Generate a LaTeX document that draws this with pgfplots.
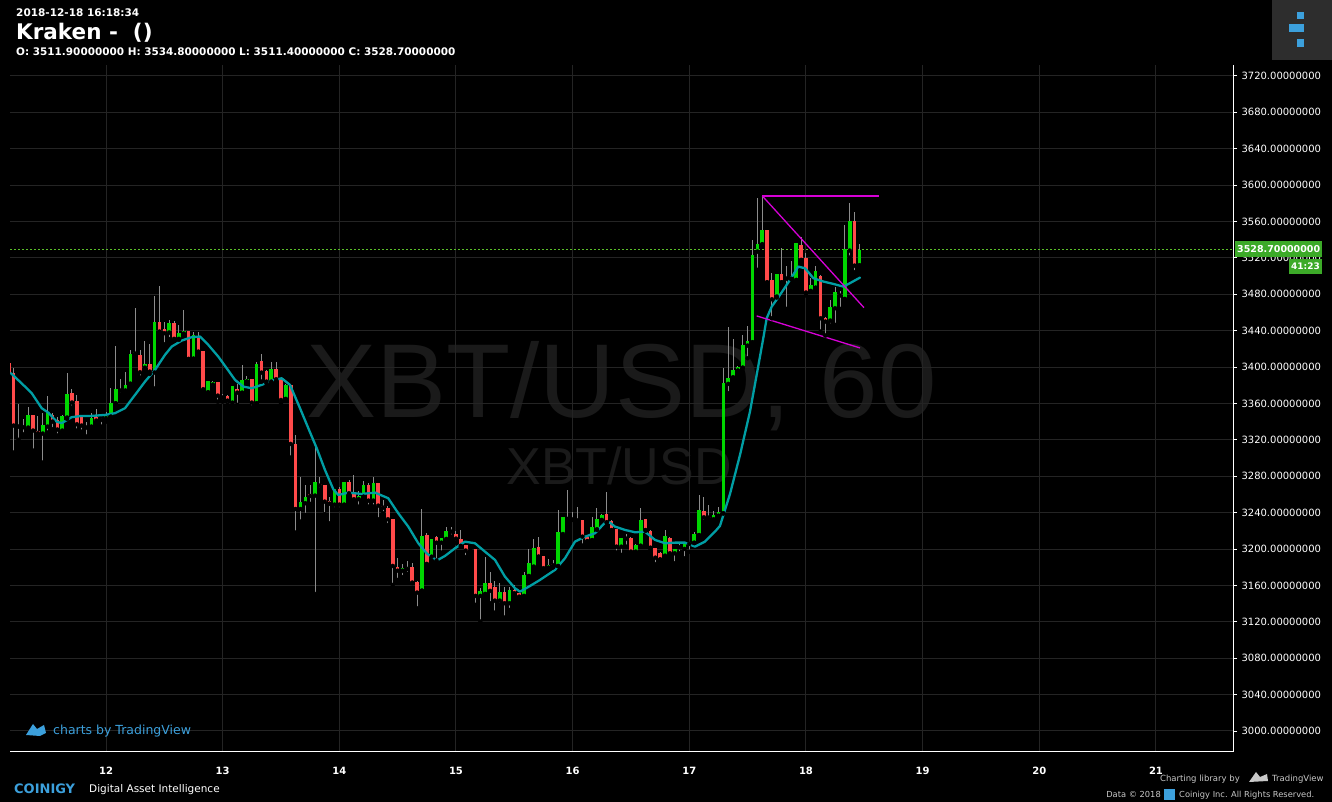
\documentclass[border=0pt]{standalone}
\usepackage{fontspec}
\setmainfont{DejaVu Sans}
\newfontfamily\lib{Liberation Sans}
\usepackage{pgfplots}
\pgfplotsset{compat=1.18}
\usepackage{pgfplotstable}

\definecolor{upg}{RGB}{0,214,0}
\definecolor{dnr}{RGB}{255,74,74}
\definecolor{wick}{RGB}{140,140,140}
\definecolor{gridc}{RGB}{36,36,36}
\definecolor{tealc}{RGB}{0,158,164}
\definecolor{magc}{RGB}{214,0,214}
\definecolor{pricec}{RGB}{90,190,40}
\definecolor{pricebox}{RGB}{60,170,40}
\definecolor{tvblue}{RGB}{60,160,220}
\definecolor{wm}{RGB}{26,26,26}
\definecolor{logobg}{RGB}{45,45,45}
\definecolor{foot}{RGB}{200,200,200}

\pgfplotstableread{
h o hi lo c
-16 3333.5 3356.6 3330.2 3347.4
-13 3326.9 3349.2 3295 3336.4
-12 3334.6 3368.3 3328 3349.6
-9 3330.2 3347.4 3329.1 3346.3
-8 3344.5 3393.6 3343 3370.5
-4 3333.5 3339.4 3323.6 3335.7
-3 3334.6 3350 3334 3344.5
-1 3341.8 3344.5 3334.6 3342.4
0 3343.8 3351 3340 3346.7
1 3345.6 3377.5 3345 3361
2 3360.2 3423.3 3360 3376
4 3374.1 3394.3 3374 3380
5 3381.8 3418.9 3381 3414.5
6 3414.8 3465 3414 3416.7
8 3399.4 3428.7 3398 3403.1
10 3394 3478.2 3376.4 3449.6
13 3437.9 3451.8 3430.6 3448.2
15 3431 3446.3 3430 3437.2
16 3436.8 3462.8 3436 3439.7
18 3409.3 3438.6 3409 3435.3
21 3372.3 3385 3372 3384.7
22 3380.7 3384.7 3376.7 3383.6
24 3366.5 3370 3362 3367.5
26 3360.9 3379.5 3357.3 3379.2
28 3371.9 3402.3 3371.5 3385.8
29 3384 3390.3 3384 3387
31 3360.2 3406 3360 3403.4
34 3384 3406 3383 3398
37 3365 3381 3364 3380
40 3244 3279.6 3230.1 3251.7
41 3250.3 3270.4 3237.4 3257.2
43 3258.7 3311.8 3150.6 3273.7
47 3248.8 3266 3243.7 3265.7
49 3248.8 3274 3248.5 3273.7
52 3254.7 3264.2 3246.6 3258.3
53 3257.6 3275.2 3257 3270.4
55 3253.2 3278.8 3246.6 3272.2
61 3176.2 3183.6 3169 3179.5
62 3178.1 3187.3 3172.6 3179.9
65 3154.3 3243.7 3154 3214.4
67 3191.6 3211.4 3187.3 3211.1
69 3207 3212.5 3196 3212.2
70 3211.1 3224.6 3207 3219.8
71 3219.1 3224.6 3213.6 3219.8
75 3198.3 3200 3197 3199.8
77 3148.5 3156.9 3120.2 3154.3
78 3150.7 3191.7 3149.6 3163.1
81 3143.3 3162.4 3138.6 3153.2
83 3140.4 3158.7 3133 3155
86 3148.5 3175.2 3148 3171.5
87 3170.4 3199.8 3170 3185.1
88 3180.7 3210.7 3180 3200.9
91 3179.6 3189.5 3179 3182.5
93 3181.4 3242.9 3181 3219.1
94 3216.5 3235.5 3213.6 3234.9
95 3233 3264.9 3233 3234.5
100 3209.9 3235.6 3209.5 3224.6
101 3221.7 3244.8 3221 3233
102 3232 3238 3231.2 3237.8
106 3202.6 3212 3193.5 3211.8
107 3211.4 3216.5 3202.6 3211.8
109 3197.1 3205 3196 3204.5
110 3203.7 3244.8 3203 3231.9
115 3192.7 3220.9 3189.8 3214.3
117 3195.3 3200.5 3184.3 3200.1
119 3200.1 3206.5 3189.8 3206.3
120 3205.6 3208 3197 3207.8
121 3207 3219.1 3206.5 3216.5
122 3215.4 3259.4 3215 3242.9
125 3232.7 3242.2 3230.1 3237.4
126 3236.7 3246.6 3236 3240.4
127 3239.3 3399.4 3239 3382.2
128 3381.5 3444.5 3371.2 3387.7
129 3388.8 3430.9 3388 3396.8
130 3396.1 3400.7 3396 3400.5
131 3399.4 3435.3 3399 3424.3
132 3423.6 3445.6 3409.7 3428.7
133 3427.3 3539.7 3427 3523.3
134 3526.9 3585.5 3506.8 3535
135 3535 3589.2 3534.6 3550.7
138 3477.5 3502.3 3476.4 3502
140 3497.2 3511.5 3463.9 3497.9
141 3496.9 3516.7 3496.5 3497.6
142 3495.8 3536.5 3495.5 3536.1
145 3483.7 3498.3 3483 3490.3
146 3487.3 3511.5 3487 3505.7
149 3451.1 3473.8 3445.6 3465.7
150 3464.6 3488.4 3446.3 3482.2
152 3474.9 3556.2 3474.5 3529.9
153 3528 3580.1 3520.3 3560.6
155 3511.9 3534.8 3511.4 3528.7
}\upc

\pgfplotstableread{
h o hi lo c
-20 3404.2 3406.8 3390 3393.2
-19 3393.2 3398.7 3306 3335.7
-18 3336.4 3359.5 3320 3334.6
-17 3335.7 3342.6 3326 3333.8
-15 3347.0 3347.5 3308.2 3330.2
-14 3329.8 3346.3 3323.6 3327.3
-11 3347.4 3350 3331.7 3340.1
-10 3341.9 3345.6 3324.7 3331.3
-7 3371.2 3376 3355.5 3361.0
-6 3362.8 3369.4 3330.2 3337.1
-5 3347.0 3347.5 3329 3335.7
-2 3345.2 3353.6 3338 3341.2
3 3376 3387 3369.4 3374.1
7 3413 3418.9 3388.5 3394.3
9 3403.1 3425.4 3392.5 3395.0
11 3449.6 3489.2 3435.3 3439
12 3442 3449.6 3425 3437.2
14 3448.2 3450.7 3428.7 3431
17 3439.7 3440 3406.8 3409
19 3432.7 3438.6 3415.2 3417
20 3417.7 3418 3373.8 3375.6
23 3383.3 3384 3362 3368.6
25 3368.3 3369 3358.4 3363.1
27 3376 3381 3358.4 3371.9
30 3386.6 3387 3355.8 3360.9
32 3406.4 3414 3384 3393.9
33 3395.7 3396.8 3382.2 3384
35 3397.6 3406 3384 3386.6
36 3387.7 3388 3360 3363.8
38 3380.3 3381 3300.5 3315.5
39 3315.5 3325.4 3218 3244
42 3260.9 3270.4 3249.6 3258.3
44 3271.9 3279.6 3264.9 3269.7
45 3270.4 3270.5 3238.2 3252.1
46 3252.5 3256.9 3228.3 3249.9
48 3265.7 3268.6 3243.7 3248.8
50 3273.7 3275.9 3257.6 3261.2
51 3260.5 3281.4 3252.1 3254.7
54 3270.4 3272.3 3246.6 3253.2
56 3272.2 3272.5 3232.7 3247.7
57 3247.7 3253.9 3239.3 3245.5
58 3244.8 3247.3 3226.4 3232.7
59 3232.7 3233 3160.5 3181.4
60 3179.9 3189.8 3166 3176.2
63 3179.9 3184.3 3162.5 3163.1
64 3164.2 3164.5 3134.8 3152.1
66 3215.5 3218 3183 3183.6
68 3212.9 3214.4 3187.3 3207
72 3216.2 3220.2 3207 3211.4
73 3211.1 3221 3203 3203.4
74 3204.5 3204.5 3191 3198.3
76 3199.8 3200 3138.6 3148.5
79 3163.1 3175.2 3140.4 3154
80 3158.7 3165 3130.1 3143.3
82 3153.2 3158.7 3124.6 3140.4
84 3155 3160.6 3150.6 3151.4
85 3151.4 3152 3147 3147.7
89 3202 3213.7 3191.5 3191.7
90 3192.4 3192.7 3177.8 3178.9
92 3183.2 3188 3179.9 3182.1
96 3234.5 3241.1 3232 3232.3
97 3233 3246.6 3231 3231.2
98 3231.9 3232 3203.7 3213.6
99 3213.6 3215.4 3208 3208.8
103 3238.5 3262.3 3229 3229.4
104 3230.5 3232 3217.3 3220.9
105 3221.7 3222 3196 3202.6
108 3211.8 3213.6 3195.3 3197.1
111 3232.7 3233 3220 3220.9
112 3219.8 3221 3200 3201.5
113 3200.8 3201 3183.2 3190.5
114 3195.3 3197 3188 3188.7
116 3212.5 3213 3193.5 3195.3
118 3203.7 3207 3195.3 3201.9
123 3241.8 3257.6 3230.1 3234.9
124 3235.6 3248.4 3232 3234.5
136 3550.7 3551 3493 3493.2
137 3495.8 3503.1 3453.6 3474.5
139 3502 3530.6 3493 3493.2
143 3534.2 3543.4 3517.5 3517.8
144 3519.6 3525.1 3478.6 3481.9
147 3500.5 3501 3439 3453.6
148 3453.6 3455.5 3434.6 3450
151 3480.7 3484 3464 3478.6
154 3560.6 3570.9 3504.2 3511.5
}\dnc

\pgfplotstableread{
h v
-19.54 3393.2
-16.66 3378.5
-15.28 3371.2
-13.23 3354.8
-11.87 3349.9
-10.14 3340.0
-9.11 3338.3
-7.06 3344.9
-5.0 3346.3
-2.94 3346.3
-0.2 3347.4
1.85 3349.3
3.91 3354.8
5.97 3369.4
8.02 3384.0
10.08 3396.8
12.14 3413.4
13.52 3422.5
15.57 3429.1
17.63 3432.8
19.34 3433.5
21.05 3424.3
23.1 3411.5
24.83 3398.7
26.54 3385.9
28.25 3378.5
29.97 3376.7
32.03 3380.4
34.09 3385.1
36.14 3387.7
37.85 3380.4
39.91 3354.8
41.62 3332.8
43.35 3310.8
45.05 3286.9
46.76 3265.7
47.79 3259.4
49.84 3262.0
52.6 3260.5
55.34 3262.0
58.07 3255.8
60.13 3239.3
62.19 3224.6
64.25 3206.3
65.97 3195.3
68.03 3187.2
69.74 3192.4
71.8 3200.8
73.85 3208.1
75.91 3206.3
77.97 3197.1
80.03 3188.0
82.08 3169.6
84.14 3156.9
85.17 3153.1
87.23 3159.4
89.28 3166.0
92.37 3177.0
94.43 3189.9
96.48 3208.1
98.54 3213.6
100.6 3217.3
102.65 3229.0
103.68 3229.0
104.71 3224.6
106.77 3221.0
108.83 3218.4
110.88 3219.1
112.94 3210.0
115.0 3206.3
117.05 3207.0
119.11 3207.0
121.17 3202.6
123.22 3208.1
125.28 3219.1
126.31 3225.4
128.37 3260.5
130.43 3303.4
132.48 3351.0
133.86 3391.4
135.22 3431.7
135.92 3453.7
136.95 3466.4
138.66 3479.3
140.71 3495.8
142.42 3510.4
143.8 3508.6
144.83 3502.1
145.5 3497.7
147.56 3494.0
149.62 3491.4
151.68 3488.4
153.05 3492.2
155.11 3498.3
}\ema

\begin{document}
\begin{tikzpicture}
\fill[black] (0,0) rectangle (1332pt,802pt);
\useasboundingbox (0,0) rectangle (1332pt,802pt);

% watermark
\node[anchor=base, inner sep=0, text=wm, font=\lib\fontsize{105}{110}\selectfont] at (621.5pt,384pt) {XBT/USD, 60};
\node[anchor=base, inner sep=0, text=wm, font=\lib\fontsize{52}{56}\selectfont] at (619pt,317pt) {XBT/USD};

\begin{axis}[
  at={(10pt,50pt)}, anchor=south west,
  scale only axis, width=1223pt, height=687pt,
  xmin=-19.75, xmax=231.85, ymin=2976.9, ymax=3732,
  axis x line*=bottom, axis y line*=right,
  axis line style={white, line width=1pt},
  xtick={0,24,48,72,96,120,144,168,192,216},
  xticklabels={12,13,14,15,16,17,18,19,20,21},
  ytick={3000,3040,...,3720},
  yticklabel={\pgfmathparse{int(round(\tick))}\pgfmathresult.00000000},
  grid=major, grid style={gridc, line width=1pt},
  xtick style={draw=none},
  ytick style={white, line width=0.8pt},
  tick align=outside, major tick length=4pt,
  yticklabel style={font=\fontsize{10}{12}\selectfont, text=white, anchor=west, xshift=1pt},
  xticklabel style={font=\bfseries\fontsize{10}{12}\selectfont, text=white, yshift=-8pt},
  /pgf/number format/assume math mode=true,
  clip=true,
]
% current price line
\addplot[pricec, dash pattern=on 2pt off 2pt, line width=1pt, forget plot] coordinates {(-19.75,3528.7) (231.85,3528.7)};
% wicks
\addplot[only marks, mark=none, forget plot,
  error bars/.cd, y dir=plus, y explicit, error mark=none,
  error bar style={draw=wick, line width=1pt}]
  table[x=h, y=lo, y error expr=\thisrow{hi}-\thisrow{lo}] {\upc};
\addplot[only marks, mark=none, forget plot,
  error bars/.cd, y dir=plus, y explicit, error mark=none,
  error bar style={draw=wick, line width=1pt}]
  table[x=h, y=lo, y error expr=\thisrow{hi}-\thisrow{lo}] {\dnc};
% bodies
\addplot[only marks, mark=none, forget plot,
  error bars/.cd, y dir=plus, y explicit, error mark=none,
  error bar style={draw=upg, line width=3.6pt}]
  table[x=h, y=o, y error expr={max(\thisrow{c}-\thisrow{o},0.9)}] {\upc};
\addplot[only marks, mark=none, forget plot,
  error bars/.cd, y dir=plus, y explicit, error mark=none,
  error bar style={draw=dnr, line width=3.6pt}]
  table[x=h, y=c, y error expr={max(\thisrow{o}-\thisrow{c},0.9)}] {\dnc};
% moving average
\addplot[tealc, line width=2.3pt, line join=round, line cap=round, mark=none, forget plot] table[x=h, y=v] {\ema};
% drawn trend lines
\addplot[magc, line width=1.3pt, forget plot] coordinates {(135.01,3588.1) (159.02,3588.1)};
\addplot[magc, line width=1.3pt, forget plot] coordinates {(135.01,3588.1) (155.93,3465.3)};
\addplot[magc, line width=1.3pt, forget plot] coordinates {(133.86,3456.2) (155.11,3421.0)};
\end{axis}

% header
\node[anchor=base west, inner sep=0, text=white, font=\bfseries\fontsize{10.5}{12}\selectfont] at (16pt,785pt) {2018-12-18 16:18:34};
\node[anchor=base west, inner sep=0, text=white, font=\bfseries\fontsize{21.5}{24}\selectfont] at (16pt,762pt) {Kraken -\ \ ()};
\node[anchor=base west, inner sep=0, text=white, font=\bfseries\fontsize{10.45}{12}\selectfont] at (16pt,746pt) {O: 3511.90000000 H: 3534.80000000 L: 3511.40000000 C: 3528.70000000};

% logo top right
\fill[logobg] (1272pt,742pt) rectangle (1332pt,802pt);
\fill[tvblue] (1297pt,783pt) rectangle (1304pt,790pt);
\fill[tvblue] (1289pt,770pt) rectangle (1304pt,778pt);
\fill[tvblue] (1297pt,755pt) rectangle (1304pt,763pt);

% price labels on right
\node[fill=pricebox, text=white, font=\bfseries\fontsize{9.5}{10}\selectfont, inner sep=2pt, minimum height=16pt, anchor=west] at (1235pt,553pt) {3528.70000000};
\node[fill=pricebox, text=white, font=\bfseries\fontsize{9}{10}\selectfont, inner sep=2pt, minimum height=15pt, anchor=north east] at (1322pt,543pt) {41:23};

% charts by TradingView
\fill[tvblue] (26pt,67pt) -- (33pt,78pt) -- (37pt,73pt) -- (44pt,77pt) -- (46pt,69pt) -- (40pt,66pt) -- cycle;
\node[anchor=base west, inner sep=0, text=tvblue, font=\fontsize{12.5}{14}\selectfont] at (53pt,67pt) {charts by TradingView};

% footer left
\node[anchor=base west, inner sep=0, text=tvblue, font=\bfseries\fontsize{13}{14}\selectfont] at (14pt,8pt) {COINIGY};
\node[anchor=base west, inner sep=0, text=white, font=\fontsize{10.5}{12}\selectfont] at (89pt,9pt) {Digital Asset Intelligence};

% footer right
\node[anchor=base east, inner sep=0, text=foot, font=\fontsize{8.5}{10}\selectfont] at (1240pt,20pt) {Charting library by};
\fill[foot] (1249pt,20pt) -- (1256pt,30pt) -- (1260pt,25pt) -- (1267pt,28pt) -- (1268pt,21pt) -- cycle;
\node[anchor=base west, inner sep=0, text=foot, font=\fontsize{8.5}{10}\selectfont] at (1272pt,20pt) {TradingView};
\node[anchor=base east, inner sep=0, text=foot, font=\fontsize{8.3}{10}\selectfont] at (1161pt,4pt) {Data © 2018};
\fill[tvblue] (1164pt,2pt) rectangle (1175pt,13pt);
\node[anchor=base west, inner sep=0, text=foot, font=\fontsize{8.3}{10}\selectfont] at (1179pt,4pt) {Coinigy Inc. All Rights Reserved.};
\end{tikzpicture}
\end{document}
